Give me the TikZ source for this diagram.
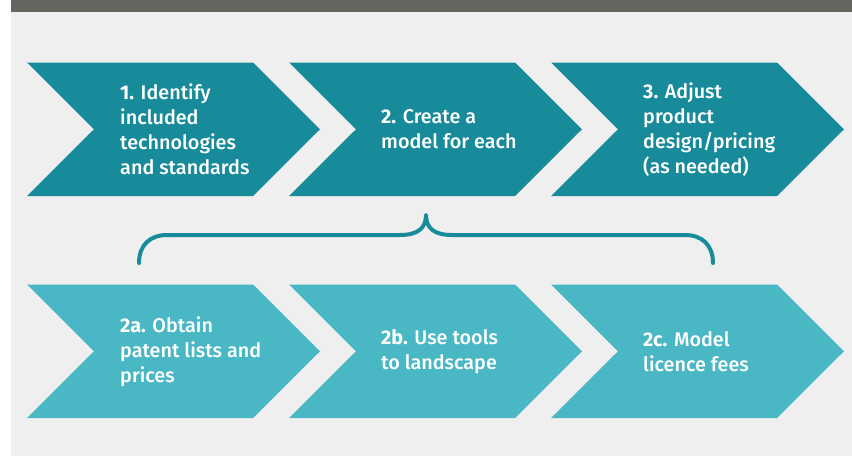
\documentclass[tikz,border=0pt]{standalone}
\usepackage{fontspec}
\setmainfont{Fira Sans}[UprightFont=* Medium, BoldFont=* Bold]
\begin{document}
\begin{tikzpicture}[x=1pt,y=-1pt]
\definecolor{band}{HTML}{666661}
\definecolor{panel}{HTML}{EFEFEF}
\definecolor{deep}{HTML}{188B9B}
\definecolor{light}{HTML}{4AB8C4}
\tikzset{
  steptext/.style={anchor=west, inner sep=0pt, align=left, text=white,
    font=\fontsize{19.8}{25}\selectfont},
  bracepath/.style={draw=deep, line width=4pt, line cap=round, line join=round}
}
% canvas
\fill[white] (0,0) rectangle (852,456);
\useasboundingbox (0,0) rectangle (852,456);
\fill[panel] (11,12) rectangle (852,456);
\fill[band] (11,0) rectangle (852,12);
% chevron shape: left x, top y, bottom y
\def\chev#1#2#3#4{%
  \fill[#4] (#1,#2) -- ({#1+226},#2) -- ({#1+293},{(#2+#3)/2}) -- ({#1+226},#3)
    -- (#1,#3) -- ({#1+67},{(#2+#3)/2}) -- cycle;}
% top row
\chev{27}{62.5}{196}{deep}
\chev{289}{62.5}{196}{deep}
\chev{551}{62.5}{196}{deep}
% bottom row
\chev{27}{284.5}{418}{light}
\chev{289}{284.5}{418}{light}
\chev{551}{284.5}{418}{light}
% labels
\node[steptext] (s1) at (120,129.5) {\textbf{1.} Identify\\included\\technologies\\and standards};
\node[steptext] (s2) at (381,129.5) {\textbf{2.} Create a\\model for each};
\node[steptext] (s3) at (643,129.5) {\textbf{3.} Adjust\\product\\design/pricing\\(as needed)};
\node[steptext] (s2a) at (120,351.5) {\textbf{2a.} Obtain\\patent lists and\\prices};
\node[steptext] (s2b) at (381,351.5) {\textbf{2b.} Use tools\\to landscape};
\node[steptext] (s2c) at (643,351.5) {\textbf{2c.} Model\\licence fees};
% brace grouping the sub-steps under step 2
\coordinate (bl) at (139,263);
\coordinate (bm) at (426,215);
\coordinate (br) at (713,263);
\draw[bracepath] (bl) .. controls (139,245) and (150,235) .. (167,235) -- (400,235)
  .. controls (418,235) and (426,228) .. (bm)
  .. controls (426,228) and (434,235) .. (452,235) -- (685,235)
  .. controls (702,235) and (713,245) .. (br);
\end{tikzpicture}
\end{document}
